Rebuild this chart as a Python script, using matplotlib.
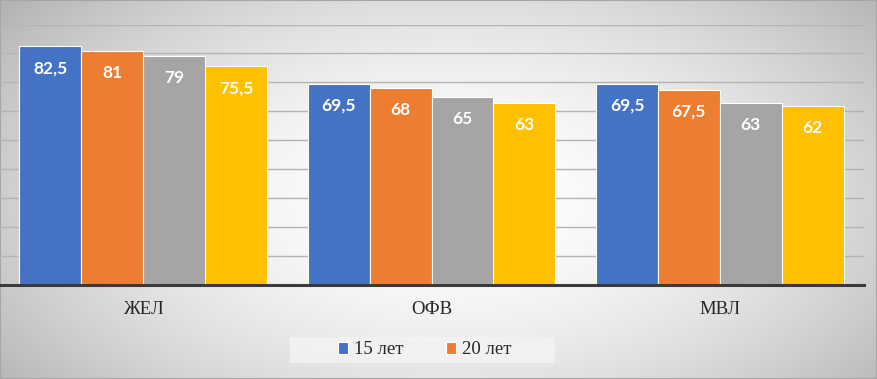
import numpy as np
import matplotlib
matplotlib.use("Agg")
import matplotlib.pyplot as plt
from matplotlib.patches import Rectangle

categories = ["ЖЕЛ", "ОФВ", "МВЛ"]
series_names = ["15 лет", "20 лет", "25 лет", "30 лет"]
values_15 = [82.5, 69.5, 69.5]
values_20 = [81, 68, 67.5]
values_25 = [79, 65, 63]
values_30 = [75.5, 63, 62]
label_15 = ["82,5", "69,5", "69,5"]
label_20 = ["81", "68", "67,5"]
label_25 = ["79", "65", "63"]
label_30 = ["75,5", "63", "62"]

colors = ["#4472C4", "#ED7D31", "#A5A5A5", "#FFC000"]

W, H = 877, 379
fig = plt.figure(figsize=(W / 100, H / 100), dpi=100)

# radial gradient background
bg = fig.add_axes([0, 0, 1, 1])
yy, xx = np.mgrid[0:H, 0:W]
cx, cy = 450, 200
d = np.sqrt(((xx - cx) / 470.0) ** 2 + ((yy - cy) / 260.0) ** 2)
v = 1.0 - 0.21 * np.clip(d, 0, 1.2) ** 1.8
img = np.dstack([v, v, v])
bg.imshow(img, aspect="auto", extent=[0, 1, 0, 1], origin="upper")
bg.set_axis_off()
bg.set_xlim(0, 1)
bg.set_ylim(0, 1)
bg.add_patch(Rectangle((0, 0), 1, 1, transform=bg.transAxes, fill=False,
                       edgecolor="#a6a6a6", lw=1.5))
# legend background box
bg.add_patch(Rectangle((290 / W, 1 - 363 / H), 265 / W, 26 / H, transform=bg.transAxes,
                       facecolor="#f3f3f3", edgecolor="none", alpha=0.85))

ax = fig.add_axes([-1 / W, 1 - 285 / H, 865 / W, (285 - 24.5) / H])
ax.set_facecolor("none")

x = np.arange(len(categories))
bw = 0.2145
all_vals = [values_15, values_20, values_25, values_30]
all_labels = [label_15, label_20, label_25, label_30]
for i, (vals, labs) in enumerate(zip(all_vals, all_labels)):
    pos = x + (i - 1.5) * bw
    bars = ax.bar(pos, vals, width=bw, color=colors[i], edgecolor="white",
                  linewidth=0.8, label=series_names[i], zorder=3)
    for b, lab in zip(bars, labs):
        ax.annotate(lab, (b.get_x() + b.get_width() / 2, b.get_height()),
                    xytext=(0, -22), textcoords="offset pixels",
                    ha="center", va="center", color="white",
                    fontfamily="Lato", fontweight="bold", fontsize=12.5, zorder=4)

ax.set_xlim(-0.5, 2.5)
ax.set_ylim(0, 90)
ax.set_yticks(np.arange(10, 91, 10))
ax.yaxis.grid(True, color="#b4b4b4", linewidth=1.0, zorder=0)
ax.tick_params(axis="y", left=False, labelleft=False)
ax.tick_params(axis="x", bottom=False, pad=8)
ax.set_xticks(x)
ax.set_xticklabels(categories, fontfamily="Liberation Serif", fontsize=13.5, color="#262626")
for s in ["top", "right", "left"]:
    ax.spines[s].set_visible(False)
ax.spines["bottom"].set_color("#3a3a3a")
ax.spines["bottom"].set_linewidth(2.2)
ax.spines["bottom"].set_zorder(5)

handles, labels = ax.get_legend_handles_labels()
leg = fig.legend(handles[:2], labels[:2], loc="center left",
                 bbox_to_anchor=(338 / W, 1 - 350 / H),
                 ncol=2, frameon=False, prop={"family": "Liberation Serif", "size": 13.5},
                 handlelength=0.55, handleheight=0.55, handletextpad=0.3,
                 columnspacing=2.25, borderpad=0, borderaxespad=0)
for t in leg.get_texts():
    t.set_color("#262626")

fig.savefig("out.png", dpi=100)
